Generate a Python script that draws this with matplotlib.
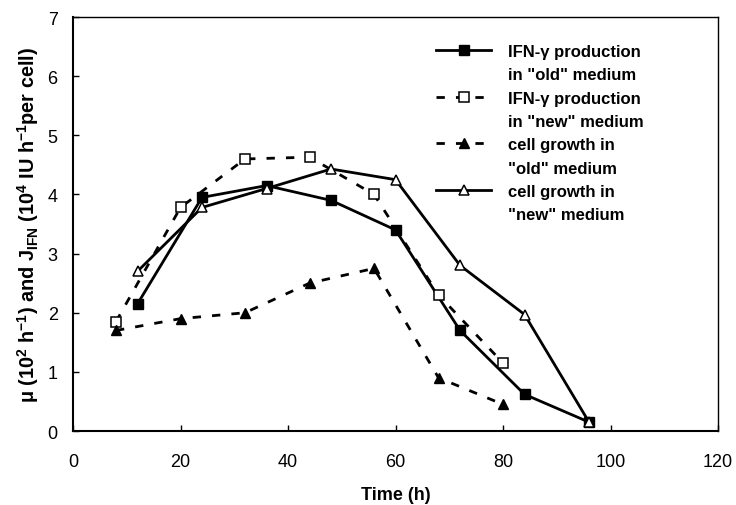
import matplotlib
matplotlib.use('Agg')
import matplotlib.pyplot as plt
from matplotlib.lines import Line2D

# time (h) and values
t_ifn_old = [12, 24, 36, 48, 60, 72, 84, 96]
ifn_old = [2.15, 3.95, 4.15, 3.9, 3.4, 1.7, 0.62, 0.15]

t_ifn_new = [8, 20, 32, 44, 56, 68, 80]
ifn_new = [1.85, 3.78, 4.6, 4.63, 4.0, 2.3, 1.15]

t_mu_old = [8, 20, 32, 44, 56, 68, 80]
mu_old = [1.7, 1.9, 2.0, 2.5, 2.75, 0.9, 0.45]

t_mu_new = [12, 24, 36, 48, 60, 72, 84, 96]
mu_new = [2.7, 3.78, 4.1, 4.43, 4.25, 2.8, 1.97, 0.15]

labels = [('IFN-\u03b3 production', 'in "old" medium'),
          ('IFN-\u03b3 production', 'in "new" medium'),
          ('cell growth in', '"old" medium'),
          ('cell growth in', '"new" medium')]

plt.rcParams['font.family'] = ['Liberation Sans', 'DejaVu Sans']
plt.rcParams['mathtext.fontset'] = 'custom'
plt.rcParams['mathtext.rm'] = 'Liberation Sans:bold'
plt.rcParams['mathtext.it'] = 'Liberation Sans:bold'
plt.rcParams['mathtext.bf'] = 'Liberation Sans:bold'

fig = plt.figure(figsize=(7.36, 5.06), dpi=100)
ax = fig.add_axes([0.0992, 0.1462, 0.8764, 0.8182])

dash = (0, (3, 4))
lines = []
lines += ax.plot(t_ifn_old, ifn_old, color='black', lw=2, marker='s', ms=6.5,
                 mfc='black', mec='black')
lines += ax.plot(t_ifn_new, ifn_new, color='black', lw=2, ls=dash, marker='s', ms=7.5,
                 mfc='white', mec='black', mew=1.1)
lines += ax.plot(t_mu_old, mu_old, color='black', lw=2, ls=dash, marker='^', ms=7.5,
                 mfc='black', mec='black')
lines += ax.plot(t_mu_new, mu_new, color='black', lw=2, marker='^', ms=7.5,
                 mfc='white', mec='black', mew=1.1)

ax.set_xlim(0, 120)
ax.set_ylim(0, 7)
ax.set_xticks(range(0, 121, 20))
ax.set_yticks(range(0, 8))
ax.tick_params(direction='in', labelsize=13, width=1, length=4)
ax.tick_params(axis='x', pad=16)
ax.tick_params(axis='y', pad=11)
for s in ['top', 'right']:
    ax.spines[s].set_linewidth(1.0)
for s in ['left', 'bottom']:
    ax.spines[s].set_linewidth(1.5)

ax.set_xlabel('Time (h)', fontsize=13, fontweight='bold', labelpad=11)
ax.set_ylabel(r'$\mu$ (10$^{2}$ h$^{-1}$) and J$_{\mathregular{IFN}}$ (10$^{4}$ IU h$^{-1}$per cell)',
              fontsize=14.3, fontweight='bold', labelpad=5)

# two-line entries with the handle on the first line
blank = Line2D([], [], color='none')
handles, texts = [], []
for ln, (first, second) in zip(lines, labels):
    handles += [ln, blank]
    texts += [first, second]
leg = ax.legend(handles, texts, loc='upper left', bbox_to_anchor=(0.55, 0.955),
                frameon=False, fontsize=12, handlelength=3.3, handletextpad=1.0,
                labelspacing=0.5, borderpad=0)
for txt in leg.get_texts():
    txt.set_fontweight('bold')

fig.savefig('out.png', dpi=100)
